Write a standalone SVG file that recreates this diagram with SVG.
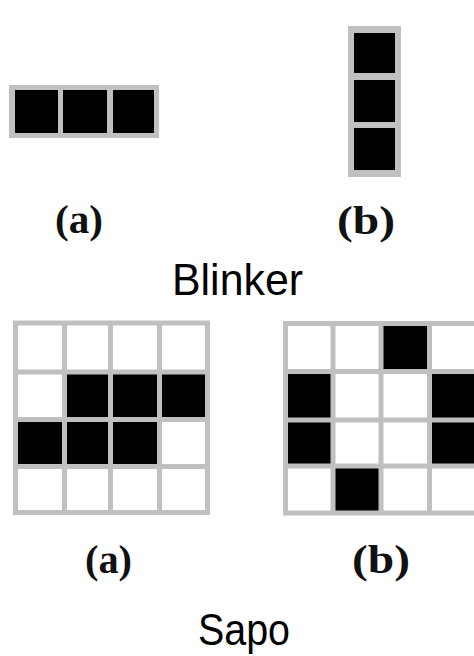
<svg xmlns="http://www.w3.org/2000/svg" width="474" height="656" viewBox="0 0 474 656">
<style>
.frame{fill:#c0c0c0}
.on{fill:#000}
.grid{stroke:#c0c0c0;stroke-width:5;fill:none}
.lbl{font-family:"Liberation Serif","Times New Roman",serif;font-weight:bold;font-size:40px;fill:#111}
.title{font-family:"Liberation Sans",Arial,sans-serif;font-size:44px;fill:#000}
</style>
<rect width="474" height="656" fill="#fff"/>
<g id="blinker-a">
<rect class="frame" x="9" y="85" width="150" height="53"/>
<rect class="on" x="15" y="90" width="43" height="43"/>
<rect class="on" x="63" y="90" width="44" height="43"/>
<rect class="on" x="113" y="90" width="41" height="43"/>
</g>
<g id="blinker-b">
<rect class="frame" x="348" y="26" width="53" height="151"/>
<rect class="on" x="354" y="33" width="41" height="40"/>
<rect class="on" x="354" y="80" width="41" height="42"/>
<rect class="on" x="354" y="128" width="41" height="42"/>
</g>
<g id="label-blinker-a"><text class="lbl" x="55" y="233" textLength="48" lengthAdjust="spacingAndGlyphs">(a)</text></g>
<g id="label-blinker-b"><text class="lbl" x="337" y="234" textLength="58" lengthAdjust="spacingAndGlyphs">(b)</text></g>
<g id="title-blinker"><text class="title" x="172" y="295" textLength="131" lengthAdjust="spacingAndGlyphs">Blinker</text></g>
<g id="sapo-a">
<rect class="on" x="64.5" y="372" width="143" height="47.5"/>
<rect class="on" x="15.5" y="419.5" width="144" height="47"/>
<path class="grid" d="M15.5 320.5V515 M64.5 320.5V515 M110.5 320.5V515 M159.5 320.5V515 M207.5 320.5V515 M13 323H210 M13 372H210 M13 419.5H210 M13 466.5H210 M13 512.5H210"/>
</g>
<g id="sapo-b">
<rect class="on" x="381" y="323.5" width="48.5" height="48"/>
<rect class="on" x="285.5" y="371.5" width="47.5" height="94.5"/>
<rect class="on" x="429.5" y="371.5" width="48" height="94.5"/>
<rect class="on" x="333" y="466" width="48" height="47"/>
<path class="grid" d="M285.5 321V515.5 M333 321V515.5 M381 321V515.5 M429.5 321V515.5 M477.5 321V515.5 M283 323.5H480 M283 371.5H480 M283 420H480 M283 466H480 M283 513H480"/>
</g>
<g id="label-sapo-a"><text class="lbl" x="85" y="573" textLength="47" lengthAdjust="spacingAndGlyphs">(a)</text></g>
<g id="label-sapo-b"><text class="lbl" x="352" y="573" textLength="58" lengthAdjust="spacingAndGlyphs">(b)</text></g>
<g id="title-sapo"><text class="title" x="198" y="645" textLength="92" lengthAdjust="spacingAndGlyphs">Sapo</text></g>
</svg>
